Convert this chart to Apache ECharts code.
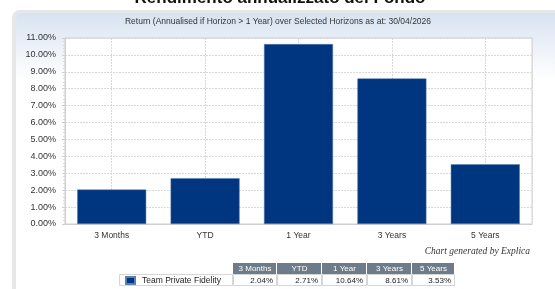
<!DOCTYPE html>
<html>
<head>
<meta charset="utf-8">
<script src="https://cdn.jsdelivr.net/npm/echarts@6/dist/echarts.min.js"></script>
<style>
  html, body { margin: 0; padding: 0; background: #fff; }
  #chart { width: 555px; height: 289px; }
</style>
</head>
<body>
<div id="chart"></div>
<script>
// data
var horizons = ["3 Months", "YTD", "1 Year", "3 Years", "5 Years"];
var fundReturns = [2.04, 2.71, 10.64, 8.61, 3.53];
var fundName = "Team Private Fidelity";

var font = "Liberation Sans";
var myChart = echarts.init(document.getElementById("chart"));

// half-bands so the vertical dashed lines sit on category centres
var halfBands = [];
horizons.forEach(function (h) { halfBands.push(h + "a", h + "b"); });

// table under the chart (header row + one value row)
var colX = [233, 277, 322, 367, 412, 455];
var headY = 263, rowY = 274, rowH = 11;
var tableEls = [];
horizons.forEach(function (h, i) {
  var x0 = colX[i], w = colX[i + 1] - colX[i];
  tableEls.push({
    type: "rect",
    shape: { x: x0, y: headY, width: w - 1, height: rowH },
    style: { fill: "#6d7b8a" }
  });
  tableEls.push({
    type: "text",
    x: x0 + w / 2, y: headY + rowH / 2 + 0.5,
    style: { text: h, fill: "#fff", font: "8px " + font, align: "center", verticalAlign: "middle" }
  });
  tableEls.push({
    type: "rect",
    shape: { x: x0 + 0.5, y: rowY + 0.5, width: w - 1, height: rowH },
    style: { fill: "#fff", stroke: "#d6d6d6", lineWidth: 1 }
  });
  tableEls.push({
    type: "text",
    x: x0 + w - 4, y: rowY + rowH / 2 + 1,
    style: { text: fundReturns[i].toFixed(2) + "%", fill: "#222", font: "8px " + font, align: "right", verticalAlign: "middle" }
  });
});
// legend cell frame
tableEls.push({
  type: "rect",
  shape: { x: 119.5, y: rowY + 0.5, width: 113, height: rowH },
  style: { fill: "none", stroke: "#d6d6d6", lineWidth: 1 }
});

myChart.setOption({
  animation: false,
  textStyle: { fontFamily: font },
  graphic: [
    {
      type: "text", x: 280, y: 7, z: 10,
      style: { text: "Rendimento annualizzato del Fondo", fill: "#111", font: "bold 17px " + font, align: "center", verticalAlign: "bottom" }
    },
    {
      type: "rect", z: -10,
      shape: { x: 12, y: 10, width: 560, height: 300, r: 8 },
      style: { fill: "#e6e7e9" }
    },
    {
      type: "rect", z: -9,
      shape: { x: 16, y: 13, width: 560, height: 300, r: 7 },
      style: {
        fill: {
          type: "linear", x: 0, y: 0, x2: 0, y2: 1,
          colorStops: [
            { offset: 0, color: "#d8e3f1" },
            { offset: 0.22, color: "#ffffff" },
            { offset: 1, color: "#ffffff" }
          ]
        }
      }
    },
    {
      type: "text", x: 278, y: 22,
      style: { text: "Return (Annualised if Horizon > 1 Year) over Selected Horizons as at: 30/04/2026", fill: "#333", font: "8.5px " + font, align: "center", verticalAlign: "middle" }
    },
    {
      type: "text", x: 530, y: 251,
      style: { text: "Chart generated by Explica", fill: "#333", font: "italic 9.5px 'Liberation Serif'", align: "right", verticalAlign: "middle" }
    }
  ].concat(tableEls),
  legend: {
    data: [fundName],
    left: 125, top: 276, padding: 0,
    icon: "rect", itemWidth: 9, itemHeight: 7,
    textStyle: { fontSize: 8.5, color: "#222", padding: [1, 0, 0, 2] }
  },
  grid: {
    left: 65, right: 23, top: 38, bottom: 65,
    show: true, borderColor: "#cfcfcf", borderWidth: 1, backgroundColor: "#fff"
  },
  xAxis: [
    {
      type: "category",
      data: horizons,
      axisLine: { lineStyle: { color: "#cfcfcf" } },
      axisTick: { show: false },
      axisLabel: { color: "#333", fontSize: 8.5, margin: 7 },
      splitLine: { show: false }
    },
    {
      // helper axis: only its dashed split lines are drawn
      type: "category",
      data: halfBands,
      position: "bottom",
      axisLine: { show: false },
      axisTick: { show: false },
      axisLabel: { show: false },
      splitLine: {
        show: true,
        interval: function (i) { return i % 2 === 1; },
        lineStyle: { color: "#d9d9d9", type: [2, 1] }
      }
    }
  ],
  yAxis: {
    type: "value",
    min: 0, max: 11, interval: 1,
    axisLine: { show: true, lineStyle: { color: "#cfcfcf" } },
    axisTick: { show: true, length: 3, lineStyle: { color: "#cfcfcf" } },
    minorTick: { show: true, splitNumber: 5, length: 2, lineStyle: { color: "#d8d8d8" } },
    axisLabel: {
      color: "#333", fontSize: 9, margin: 9,
      formatter: function (v) { return v.toFixed(2) + "%"; }
    },
    splitLine: { lineStyle: { color: "#d9d9d9", type: [2, 1] } }
  },
  series: [
    {
      name: fundName,
      type: "bar",
      xAxisIndex: 0,
      data: fundReturns,
      barWidth: 69,
      itemStyle: { color: "#003580", borderColor: "#5a7fb0", borderWidth: 0.5 }
    }
  ]
});
</script>
</body>
</html>
